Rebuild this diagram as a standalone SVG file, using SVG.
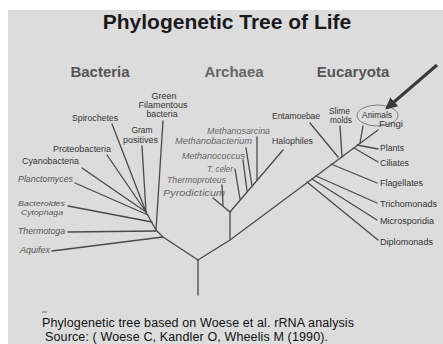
<svg xmlns="http://www.w3.org/2000/svg" width="443" height="344" viewBox="0 0 443 344">
<defs>
<marker id="ah" viewBox="0 0 10 10" refX="8" refY="5" markerWidth="4" markerHeight="4" orient="auto" markerUnits="strokeWidth">
<path d="M0,0 L10,5 L0,10 z" fill="#3a3a3a"/>
</marker>
</defs>
<style>
.br{stroke:#4a4a4a;stroke-width:1.3;fill:none;stroke-linecap:round}
.lb{font-family:"Liberation Sans","Open Sans",sans-serif;font-size:8.5px;fill:#333}
.it{font-style:italic;fill:#555}
.ar{fill:#666}
.sm{font-size:7.8px}
.hd{font-family:"Liberation Sans",Arial,sans-serif;font-weight:bold;font-size:15px;text-anchor:middle}
</style>
<rect x="0" y="0" width="443" height="344" fill="#ffffff"/>
<rect x="8" y="10" width="435" height="334" fill="#dcdcdc"/>
<text x="227" y="29" font-family="Liberation Sans, Arial, sans-serif" font-weight="bold" font-size="21" text-anchor="middle" fill="#1a1a1a">Phylogenetic Tree of Life</text>
<g id="headers">
<text class="hd" x="100" y="77" fill="#555">Bacteria</text>
<text class="hd" x="234" y="77" fill="#666">Archaea</text>
<text class="hd" x="353" y="77" fill="#555">Eucaryota</text>
</g>
<g id="connectors">
<path class="br" d="M198,295 L198,260"/>
<path class="br" d="M198,260 L163,237 L156,230 L146,212"/>
<path class="br" d="M52,251 L163,237"/>
<path class="br" d="M68,232 L156,231"/>
<path class="br" d="M68,206 L152,222"/>
<path class="br" d="M75,183 L148,215"/>
<path class="br" d="M82,168 L146,212"/>
<path class="br" d="M107,155 L146,212"/>
<path class="br" d="M112,124 L146,212"/>
<path class="br" d="M142,146 L146,212"/>
<path class="br" d="M163,121 L156,230"/>
<path class="br" d="M198,260 L230,240 L378,130"/>
<path class="br" d="M230,240 L230,212"/>
<path class="br" d="M213,198 L230,212 L283,150"/>
<path class="br" d="M222,185 L223,205"/>
<path class="br" d="M235,169 L240,199"/>
<path class="br" d="M243,160 L247,191"/>
<path class="br" d="M246,148 L252,186"/>
<path class="br" d="M257,137 L257,180"/>
<path class="br" d="M310,123 L338,157"/>
<path class="br" d="M340,126 L342,157"/>
<path class="br" d="M363,126 L360,143"/>
<path class="br" d="M357,145 L378,149"/>
<path class="br" d="M354,148 L378,162"/>
<path class="br" d="M331,164 L377,183"/>
<path class="br" d="M316,176 L377,203"/>
<path class="br" d="M312,179 L377,220"/>
<path class="br" d="M307,182 L378,240"/>
<ellipse cx="377.5" cy="115.5" rx="20.5" ry="10.5" fill="none" stroke="#666" stroke-width="0.8"/>
<path d="M437,65 L387,108" stroke="#3a3a3a" stroke-width="3" fill="none" marker-end="url(#ah)"/>
</g>
<g id="bacteria">
<text class="lb" x="164" y="99" text-anchor="middle" textLength="25" lengthAdjust="spacingAndGlyphs">Green</text>
<text class="lb" x="163" y="108" text-anchor="middle" textLength="49" lengthAdjust="spacingAndGlyphs">Filamentous</text>
<text class="lb" x="162" y="117" text-anchor="middle" textLength="31" lengthAdjust="spacingAndGlyphs">bacteria</text>
<text class="lb" x="72" y="121" textLength="46" lengthAdjust="spacingAndGlyphs">Spirochetes</text>
<text class="lb" x="142" y="133" text-anchor="middle" textLength="21" lengthAdjust="spacingAndGlyphs">Gram</text>
<text class="lb" x="140.5" y="143" text-anchor="middle" textLength="35" lengthAdjust="spacingAndGlyphs">positives</text>
<text class="lb" x="53" y="152" textLength="58" lengthAdjust="spacingAndGlyphs">Proteobacteria</text>
<text class="lb" x="22" y="164" textLength="57" lengthAdjust="spacingAndGlyphs">Cyanobacteria</text>
<text class="lb it" x="18" y="182" textLength="55" lengthAdjust="spacingAndGlyphs">Planctomyces</text>
<text class="lb it sm" x="18" y="206" textLength="47" lengthAdjust="spacingAndGlyphs">Bacteroides</text>
<text class="lb it sm" x="21" y="215" textLength="42" lengthAdjust="spacingAndGlyphs">Cytophaga</text>
<text class="lb it" x="18" y="234" textLength="47" lengthAdjust="spacingAndGlyphs">Thermotoga</text>
<text class="lb it" x="20" y="253" textLength="30" lengthAdjust="spacingAndGlyphs">Aquifex</text>
</g>
<g id="archaea">
<text class="lb it ar" x="207" y="134" textLength="63" lengthAdjust="spacingAndGlyphs">Methanosarcina</text>
<text class="lb it ar" x="175" y="144" textLength="77" lengthAdjust="spacingAndGlyphs">Methanobacterium</text>
<text class="lb it ar" x="182" y="159" textLength="63" lengthAdjust="spacingAndGlyphs">Methanococcus</text>
<text class="lb it ar" x="207" y="172" textLength="26" lengthAdjust="spacingAndGlyphs">T. celer</text>
<text class="lb it ar" x="167" y="183" textLength="59" lengthAdjust="spacingAndGlyphs">Thermoproteus</text>
<text class="lb it ar" x="163" y="196" font-size="9.5" style="font-size:9.5px" textLength="62" lengthAdjust="spacingAndGlyphs">Pyrodicticum</text>
<text class="lb" x="272" y="144" textLength="41" lengthAdjust="spacingAndGlyphs">Halophiles</text>
</g>
<g id="eucaryota">
<text class="lb" x="272" y="119" textLength="48" lengthAdjust="spacingAndGlyphs">Entamoebae</text>
<text class="lb" x="329" y="114" textLength="21" lengthAdjust="spacingAndGlyphs">Slime</text>
<text class="lb" x="330" y="123" textLength="22" lengthAdjust="spacingAndGlyphs">molds</text>
<text class="lb" x="362" y="118" textLength="30" lengthAdjust="spacingAndGlyphs">Animals</text>
<text class="lb" x="379" y="127" textLength="24" lengthAdjust="spacingAndGlyphs">Fungi</text>
<text class="lb" x="380" y="151" textLength="24" lengthAdjust="spacingAndGlyphs">Plants</text>
<text class="lb" x="380" y="166" textLength="29" lengthAdjust="spacingAndGlyphs">Ciliates</text>
<text class="lb" x="380" y="186" textLength="43" lengthAdjust="spacingAndGlyphs">Flagellates</text>
<text class="lb" x="380" y="207" textLength="57" lengthAdjust="spacingAndGlyphs">Trichomonads</text>
<text class="lb" x="380" y="224" textLength="54" lengthAdjust="spacingAndGlyphs">Microsporidia</text>
<text class="lb" x="380" y="245" textLength="53" lengthAdjust="spacingAndGlyphs">Diplomonads</text>
</g>
<g id="footer">
<line x1="42" y1="312" x2="47" y2="312" stroke="#555" stroke-width="0.8"/>
<text x="42" y="327" font-family="Liberation Sans, Arial, sans-serif" font-size="12.5" fill="#111" textLength="312">Phylogenetic tree based on Woese et al. rRNA analysis</text>
<text x="45" y="341" font-family="Liberation Sans, Arial, sans-serif" font-size="12.5" fill="#111" textLength="283">Source: ( Woese C, Kandler O, Wheelis M (1990).</text>
</g>
</svg>
